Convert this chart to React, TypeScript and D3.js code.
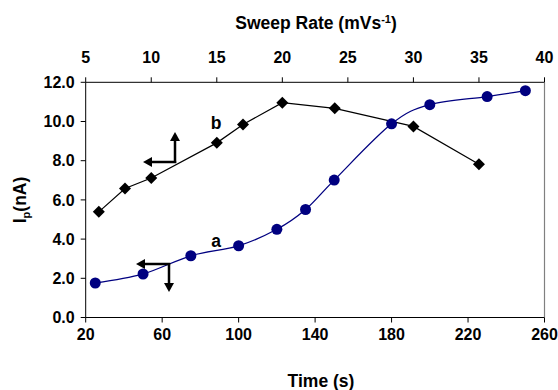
import React from "react";
import * as d3 from "d3";

const timeA = [25, 50, 75, 100, 120, 135, 150, 180, 200, 230, 250];
const currentA = [1.76, 2.22, 3.15, 3.66, 4.5, 5.51, 7.01, 9.88, 10.86, 11.27, 11.57];
const sweepB = [6, 8, 10, 15, 17, 20, 24, 30, 35];
const currentB = [5.39, 6.58, 7.12, 8.91, 9.85, 10.96, 10.67, 9.75, 7.82];
const timeTicks = [20, 60, 100, 140, 180, 220, 260];
const sweepTicks = [5, 10, 15, 20, 25, 30, 35, 40];
const yTicks = [0, 2, 4, 6, 8, 10, 12];

const W = 558, H = 390;
const L = 85.7, R = 544.5, T = 82.3, B = 317.5;
const FONT = "'Liberation Sans', Arial, sans-serif";
const TICK_FS = 16;
const TITLE_FS = 17.5;

export default function App() {
  const x = d3.scaleLinear().domain([20, 260]).range([L, R]);
  const x2 = d3.scaleLinear().domain([5, 40]).range([L, R]);
  const y = d3.scaleLinear().domain([0, 12]).range([B, T]);

  const ptsA: [number, number][] = timeA.map((t, i) => [x(t), y(currentA[i])]);
  const ptsB: [number, number][] = sweepB.map((s, i) => [x2(s), y(currentB[i])]);
  const lineA = d3.line().curve(d3.curveCardinal.tension(0))(ptsA) || "";
  const lineB = d3.line()(ptsB) || "";

  const arrowHead = (tx: number, ty: number, dir: "left" | "up" | "down") => {
    const s = 5, len = 9;
    let p = "";
    if (dir === "left") p = `M${tx},${ty} L${tx + len},${ty - s} L${tx + len},${ty + s} Z`;
    if (dir === "up") p = `M${tx},${ty} L${tx - s},${ty + len} L${tx + s},${ty + len} Z`;
    if (dir === "down") p = `M${tx},${ty} L${tx - s},${ty - len} L${tx + s},${ty - len} Z`;
    return <path d={p} fill="#000" />;
  };

  return (
    <svg width={W} height={H} style={{ position: "absolute", left: 0, top: 0 }} fontFamily={FONT}>
      <rect width={W} height={H} fill="#fff" />
      {/* axes */}
      <line x1={L} x2={R} y1={T} y2={T} stroke="#000" strokeWidth={1} />
      <line x1={L} x2={R} y1={B} y2={B} stroke="#000" strokeWidth={1} />
      <line x1={L} x2={L} y1={T} y2={B} stroke="#000" strokeWidth={1} />
      <line x1={R} x2={R} y1={T} y2={B} stroke="#808080" strokeWidth={1.2} />
      {/* y ticks */}
      {yTicks.map((v) => (
        <g key={"y" + v}>
          <line x1={L - 5} x2={L} y1={y(v)} y2={y(v)} stroke="#000" />
          <text x={L - 11} y={y(v)} dy="0.36em" textAnchor="end" fontSize={TICK_FS} fontWeight="bold">
            {v.toFixed(1)}
          </text>
        </g>
      ))}
      {/* bottom ticks */}
      {timeTicks.map((v) => (
        <g key={"t" + v}>
          <line x1={x(v)} x2={x(v)} y1={B} y2={B + 5} stroke="#000" />
          <text x={x(v)} y={B + 17} dy="0.36em" textAnchor="middle" fontSize={TICK_FS} fontWeight="bold">
            {v}
          </text>
        </g>
      ))}
      {/* top ticks */}
      {sweepTicks.map((v) => (
        <g key={"s" + v}>
          <line x1={x2(v)} x2={x2(v)} y1={T - 5} y2={T} stroke="#000" />
          <text x={x2(v)} y={T - 25} dy="0.36em" textAnchor="middle" fontSize={TICK_FS} fontWeight="bold">
            {v}
          </text>
        </g>
      ))}
      {/* titles */}
      <text x={316} y={23} dy="0.36em" textAnchor="middle" fontSize={TITLE_FS} fontWeight="bold">
        Sweep Rate (mVs<tspan dy="-6" fontSize={11}>-1</tspan><tspan dy="6">)</tspan>
      </text>
      <text x={321} y={381} dy="0.36em" textAnchor="middle" fontSize={TITLE_FS} fontWeight="bold">
        Time (s)
      </text>
      <text transform="translate(26,200) rotate(-90)" textAnchor="middle" fontSize={TITLE_FS} fontWeight="bold">
        I<tspan dy="4" fontSize={11}>p</tspan><tspan dy="-4">(nA)</tspan>
      </text>
      {/* series b */}
      <path d={lineB} fill="none" stroke="#000" strokeWidth={1.2} />
      {ptsB.map(([px, py], i) => (
        <path key={"b" + i} d={`M${px},${py - 6} L${px + 6},${py} L${px},${py + 6} L${px - 6},${py} Z`} fill="#000" />
      ))}
      {/* series a */}
      <path d={lineA} fill="none" stroke="#000080" strokeWidth={1.3} />
      {ptsA.map(([px, py], i) => (
        <circle key={"a" + i} cx={px} cy={py} r={5.5} fill="#000080" />
      ))}
      {/* arrows b */}
      <line x1={175} x2={175} y1={163} y2={140} stroke="#000" strokeWidth={2.5} />
      {arrowHead(175, 132, "up")}
      <line x1={176.2} x2={151} y1={162} y2={162} stroke="#000" strokeWidth={2.5} />
      {arrowHead(143, 162, "left")}
      {/* arrows a */}
      <line x1={170.2} x2={144} y1={264} y2={264} stroke="#000" strokeWidth={2.5} />
      {arrowHead(136, 264, "left")}
      <line x1={169} x2={169} y1={263} y2={284} stroke="#000" strokeWidth={2.5} />
      {arrowHead(169, 292, "down")}
      {/* labels */}
      <text x={216} y={123} dy="0.36em" textAnchor="middle" fontSize={TITLE_FS} fontWeight="bold">b</text>
      <text x={216} y={241} dy="0.36em" textAnchor="middle" fontSize={TITLE_FS} fontWeight="bold">a</text>
    </svg>
  );
}
